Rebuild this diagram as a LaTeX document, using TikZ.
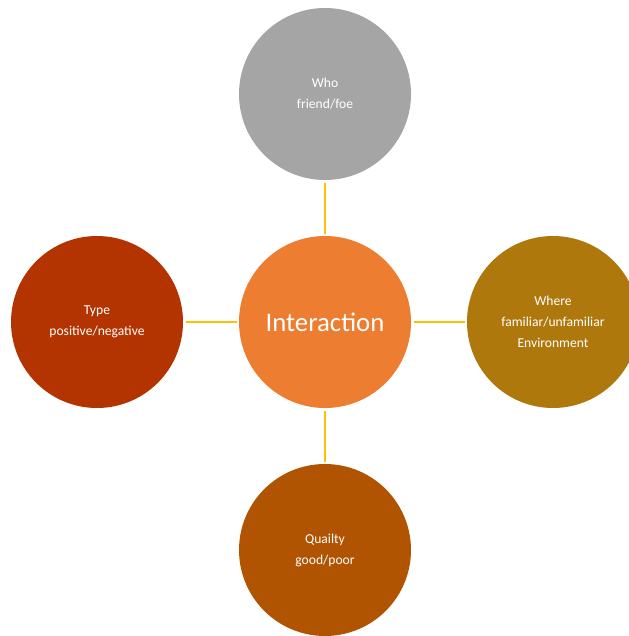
\documentclass[tikz,border=0pt]{standalone}
\usepackage{fontspec}
\setmainfont{Carlito}
\definecolor{hubfill}{HTML}{ED7D31}
\definecolor{whofill}{HTML}{A5A5A5}
\definecolor{typefill}{HTML}{B33401}
\definecolor{wherefill}{HTML}{AE780D}
\definecolor{qualfill}{HTML}{B05401}
\definecolor{linkline}{HTML}{FFC000}
\tikzset{
	ball/.style={circle,minimum size=172pt,inner sep=0pt,text=white,align=center,font=\fontsize{13.6}{21}\selectfont},
	link/.style={linkline,line width=2.6pt,shorten <=2.5pt,shorten >=2pt}
}
\begin{document}
\begin{tikzpicture}[x=1pt,y=-1pt]
			\useasboundingbox (0,0) rectangle (628,636);
			\node[ball,fill=hubfill,font=\fontsize{26.8}{30}\selectfont] (hub) at (325,322) {Interaction};
			\node[ball,fill=whofill] (who) at (325,94) {Who\\friend/foe};
			\node[ball,fill=typefill] (type) at (97,322) {Type\\positive/negative};
			\node[ball,fill=wherefill] (where) at (553,322) {Where\\familiar/unfamiliar\\Environment};
			\node[ball,fill=qualfill] (quality) at (325,550) {Quailty\\good/poor};
			\draw[link] (who)--(hub);
			\draw[link] (type)--(hub);
			\draw[link] (hub)--(where);
			\draw[link] (hub)--(quality);
	\end{tikzpicture}
\end{document}
